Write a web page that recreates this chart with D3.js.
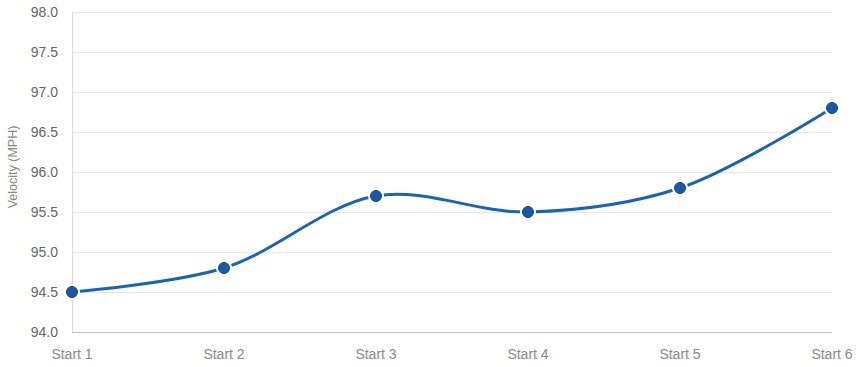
<!DOCTYPE html>
<html><head><meta charset="utf-8">
<script src="https://cdn.jsdelivr.net/npm/d3@7"></script>
<style>body{margin:0;background:#fff}svg{display:block;font-family:"Liberation Sans",Arial,Helvetica,sans-serif}</style>
</head><body><svg id="c" width="858" height="367"></svg>
<script>
const categories = ["Start 1","Start 2","Start 3","Start 4","Start 5","Start 6"];
const velocity = [94.5, 94.8, 95.7, 95.5, 95.8, 96.8];
const yTicks = [94.0,94.5,95.0,95.5,96.0,96.5,97.0,97.5,98.0];
const yLabel = "Velocity (MPH)";

const svg = d3.select("#c");
const m = {l:72, r:26, t:12, b:35};
const W = 858, H = 367;
const x = d3.scalePoint().domain(categories).range([m.l, W-m.r]);
const y = d3.scaleLinear().domain([94,98]).range([H-m.b, m.t]);

// gridlines
svg.append("g").selectAll("line").data(yTicks.slice(1)).join("line")
  .attr("x1", m.l).attr("x2", W-m.r).attr("y1", d=>y(d)+0.5).attr("y2", d=>y(d)+0.5)
  .attr("stroke", "#e6e6e6").attr("stroke-width",1);
// left axis line
svg.append("line").attr("x1", m.l+0.5).attr("x2", m.l+0.5).attr("y1", m.t).attr("y2", H-m.b)
  .attr("stroke", "#d8d8d8");
// bottom axis line
svg.append("line").attr("x1", m.l).attr("x2", W-m.r).attr("y1", y(94)+0.5).attr("y2", y(94)+0.5)
  .attr("stroke", "#c0c0c0");

// y tick labels
svg.append("g").selectAll("text").data(yTicks).join("text")
  .attr("x", m.l-14).attr("y", d=>y(d)).attr("dy","0.35em").attr("text-anchor","end")
  .attr("font-size",14).attr("fill","#666").text(d=>d.toFixed(1));
// x labels
svg.append("g").selectAll("text").data(categories).join("text")
  .attr("x", d=>x(d)).attr("y", H-8).attr("text-anchor","middle")
  .attr("font-size",14).attr("fill","#888").text(d=>d);
// y axis title
svg.append("text").attr("transform",`translate(17,167) rotate(-90)`)
  .attr("text-anchor","middle").attr("font-size",12.5).attr("fill","#888").text(yLabel);

const pts = categories.map((c,i)=>[x(c), y(velocity[i])]);
svg.append("path").attr("d", d3.line().curve(d3.curveCatmullRom.alpha(0.5))(pts))
  .attr("fill","none").attr("stroke","#1c64ae").attr("stroke-width",3);
// halo
svg.append("g").selectAll("circle").data(pts).join("circle")
  .attr("cx",d=>d[0]).attr("cy",d=>d[1]).attr("r",8).attr("fill","#fff");
svg.append("g").selectAll("circle").data(pts).join("circle")
  .attr("cx",d=>d[0]).attr("cy",d=>d[1]).attr("r",5.5).attr("fill","#1a5aa3").attr("stroke","#0e4686").attr("stroke-width",1);
</script></body></html>
